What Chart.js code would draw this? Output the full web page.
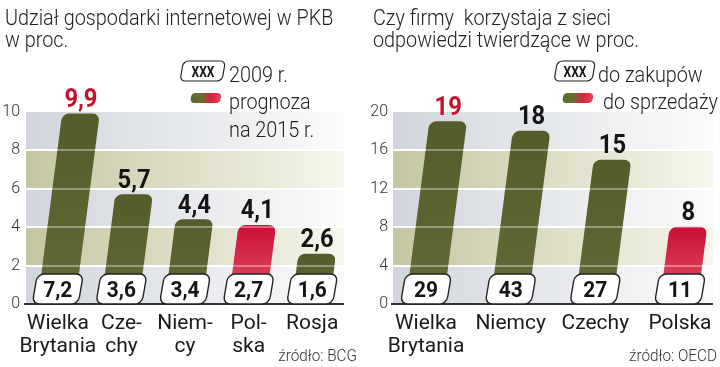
<!DOCTYPE html>
<html><head><meta charset="utf-8">
<script src="https://cdn.jsdelivr.net/npm/chart.js@4.4.1/dist/chart.umd.min.js"></script>
<style>
html,body{margin:0;padding:0;background:#fff;width:720px;height:367px;overflow:hidden}
canvas{position:absolute;top:0}
#c1{left:0}#c2{left:360px}
</style></head>
<body>
<canvas id="c1" width="360" height="367"></canvas>
<canvas id="c2" width="360" height="367"></canvas>
<script>
// ---------- data: left panel ----------
const leftTitle = ['Udział gospodarki internetowej w PKB', 'w proc.'];
const leftCategories = [['Wielka', 'Brytania'], ['Cze-', 'chy'], ['Niem-', 'cy'], ['Pol-', 'ska'], ['Rosja']];
const leftForecast2015 = [9.9, 5.7, 4.4, 4.1, 2.6];
const left2009 = [7.2, 3.6, 3.4, 2.7, 1.6];
const leftTicks = [0, 2, 4, 6, 8, 10];
const leftBoxLegend = ['2009 r.'];
const leftBarLegend = ['prognoza', 'na 2015 r.'];
const leftSource = 'źródło: BCG';

// ---------- data: right panel ----------
const rightTitle = ['Czy firmy  korzystaja z sieci', 'odpowiedzi twierdzące w proc.'];
const rightCategories = [['Wielka', 'Brytania'], ['Niemcy'], ['Czechy'], ['Polska']];
const rightSales = [19, 18, 15, 8];
const rightPurchases = [29, 43, 27, 11];
const rightTicks = [0, 4, 8, 12, 16, 20];
const rightBoxLegend = ['do zakupów'];
const rightBarLegend = ['do sprzedaży'];
const rightSource = 'źródło: OECD';

const highlight = 'Polska';

// ---------- styles ----------
const OLIVE_TOP = '#545c2b', OLIVE_BOT = '#636a36';
const RED_TOP = '#cc0e37', RED_BOT = '#e2596a';
const RED_TEXT = '#c8102e', DARK = '#151515';
const SKEW = 0.13, BOX_SKEW = 0.17;

function txt(ctx, s, x, y, font, color, align, sx) {
  ctx.save();
  ctx.font = font; ctx.fillStyle = color; ctx.textBaseline = 'alphabetic';
  ctx.textAlign = align || 'left';
  ctx.translate(x, y); ctx.scale(sx || 1, 1);
  ctx.fillText(s, 0, 0);
  ctx.restore();
}
function skewPath(ctx, x, y, w, h, r, k) {
  ctx.save();
  ctx.translate(x, y + h);
  ctx.transform(1, 0, -k, 1, 0, 0);
  ctx.beginPath();
  ctx.roundRect(0, -h, w, h, r);
  ctx.restore();
}
function valueBox(ctx, cx, cy, w, h, label, font) {
  skewPath(ctx, cx - w / 2 - BOX_SKEW * h / 2, cy - h / 2, w, h, 7, BOX_SKEW);
  ctx.fillStyle = '#fff'; ctx.fill();
  ctx.lineWidth = 1.4; ctx.strokeStyle = '#222'; ctx.stroke();
  txt(ctx, label, cx, cy + 8, font, DARK, 'center', 0.95);
}

function makePanel(id, P) {
  const fmt = v => P.decimals ? v.toFixed(P.decimals).replace('.', ',') : String(v);
  const isHi = i => P.categories[i].join('').replace('-', '') === highlight;
  const maxVal = Math.max(...P.bars);
  const LIGHT = '300 22px Roboto';

  const deco = {
    id: 'deco',
    beforeDatasetsDraw(chart) {
      const { ctx, chartArea: a, scales: { y } } = chart;
      const t = P.ticks;
      for (let i = 0; i < t.length - 1; i++) {
        const y0 = y.getPixelForValue(t[i]), y1 = y.getPixelForValue(t[i + 1]);
        const g = ctx.createLinearGradient(a.left, 0, a.right, 0);
        if (i % 2 === 0) { g.addColorStop(0, '#d1d6dc'); g.addColorStop(1, '#fbfbfb'); }
        else { g.addColorStop(0, '#c5c6a2'); g.addColorStop(1, '#f6f6ec'); }
        ctx.fillStyle = g;
        ctx.fillRect(a.left, y1, a.right - a.left, y0 - y1);
      }
      ctx.save();
      ctx.strokeStyle = '#ffffff'; ctx.lineWidth = 2;
      t.slice(1, -1).forEach(v => {
        const yy = Math.round(y.getPixelForValue(v));
        ctx.beginPath(); ctx.moveTo(a.left, yy); ctx.lineTo(a.right, yy); ctx.stroke();
      });
      ctx.restore();
      const y0 = y.getPixelForValue(0) - 12;
      ctx.save();
      ctx.transform(1, 0, -SKEW, 1, SKEW * y0, 0);
    },
    afterDatasetsDraw(chart) {
      const { ctx, chartArea: a, scales: { x, y } } = chart;
      ctx.restore();
      const yZ = y.getPixelForValue(0);
      const y0 = yZ - 12;
      ctx.save();
      ctx.strokeStyle = 'rgba(255,255,255,0.35)'; ctx.lineWidth = 2;
      P.ticks.slice(1, -1).forEach(v => {
        const yy = Math.round(y.getPixelForValue(v));
        ctx.beginPath(); ctx.moveTo(a.left, yy); ctx.lineTo(a.right, yy); ctx.stroke();
      });
      ctx.strokeStyle = '#333'; ctx.lineWidth = 2;
      ctx.beginPath(); ctx.moveTo(a.left - 2, yZ); ctx.lineTo(a.right, yZ); ctx.stroke();
      ctx.restore();
      const meta = chart.getDatasetMeta(0);
      meta.data.forEach((el, i) => {
        valueBox(ctx, el.x, yZ - 15, 46, 30, fmt(P.boxes[i]), 'bold 22px Roboto');
        const tx = el.x + SKEW * (y0 - el.y);
        txt(ctx, fmt(P.bars[i]), tx, el.y - 7, 'bold 25px Roboto',
            P.bars[i] === maxVal ? RED_TEXT : DARK, 'center', 0.95);
      });
      P.categories.forEach((lines, i) => {
        const cx = x.getPixelForValue(i);
        lines.forEach((s, j) => txt(ctx, s, cx, 329 + 23 * j, '400 21px Roboto', '#1a1a1a', 'center'));
      });
      P.title.forEach((s, j) => txt(ctx, s, P.titleX, 25 + 22 * j, LIGHT, '#222', 'left', 0.9));
      const L = P.legend;
      skewPath(ctx, L.boxX, 61, L.boxW, 20, 5, BOX_SKEW);
      ctx.fillStyle = '#fff'; ctx.fill(); ctx.lineWidth = 1.2; ctx.strokeStyle = '#222'; ctx.stroke();
      txt(ctx, 'XXX', L.boxX + L.boxW / 2 + 2, 77, 'bold 15px Roboto', DARK, 'center', 0.8);
      P.boxLegend.forEach((s, j) => txt(ctx, s, L.textX, 82 + 28 * j, LIGHT, '#222', 'left', 0.9));
      skewPath(ctx, L.swX, 93, 30, 10, 4, BOX_SKEW);
      const sg = ctx.createLinearGradient(L.swX, 0, L.swX + 32, 0);
      sg.addColorStop(0, '#5a662e'); sg.addColorStop(0.35, '#65702f');
      sg.addColorStop(0.65, '#d9213d'); sg.addColorStop(1, '#e8485d');
      ctx.fillStyle = sg; ctx.fill();
      P.barLegend.forEach((s, j) => txt(ctx, s, L.swTextX, 109 + 28 * j, LIGHT, '#222', 'left', 0.9));
      txt(ctx, P.source, 357, 361, '300 17px Roboto', '#333', 'right', 0.9);
    }
  };

  return new Chart(document.getElementById(id), {
    type: 'bar',
    data: {
      datasets: [{
        data: P.bars.map((v, i) => ({ x: i, y: v })),
        backgroundColor: c => {
          const solid = isHi(c.dataIndex) ? RED_TOP : OLIVE_TOP;
          const ch = c.chart, ys = ch.scales && ch.scales.y;
          if (!ch.chartArea || !ys || !c.raw) return solid;
          const top = ys.getPixelForValue(c.raw.y), bot = ys.getPixelForValue(0);
          if (!isFinite(top) || !isFinite(bot) || top === bot) return solid;
          const g = ch.ctx.createLinearGradient(0, top, 0, bot);
          if (isHi(c.dataIndex)) { g.addColorStop(0, RED_TOP); g.addColorStop(1, RED_BOT); }
          else { g.addColorStop(0, OLIVE_TOP); g.addColorStop(1, OLIVE_BOT); }
          return g;
        },
        borderWidth: 0,
        borderRadius: { topLeft: 7, topRight: 7, bottomLeft: 0, bottomRight: 0 },
        borderSkipped: 'bottom',
        barThickness: 37,
        clip: false
      }]
    },
    options: {
      responsive: false, animation: false, devicePixelRatio: 1,
      layout: { padding: P.padding },
      plugins: { legend: { display: false }, tooltip: { enabled: false }, title: { display: false } },
      scales: {
        x: { type: 'linear', display: false, min: P.xMin, max: P.xMax, offset: false },
        y: {
          min: 0, max: P.ticks[P.ticks.length - 1],
          afterBuildTicks: s => { s.ticks = P.ticks.map(v => ({ value: v })); },
          afterFit: s => { s.width = P.axisWidth; },
          grid: { display: false, drawTicks: false, tickLength: 0 }, border: { display: false },
          ticks: { color: '#333', font: { family: 'Roboto', size: 16, weight: '300' },
                   padding: P.tickPad, crossAlign: 'near' }
        }
      }
    },
    plugins: [deco]
  });
}

makePanel('c1', {
  title: leftTitle, categories: leftCategories, bars: leftForecast2015, boxes: left2009,
  ticks: leftTicks, boxLegend: leftBoxLegend, barLegend: leftBarLegend, source: leftSource,
  decimals: 1, titleX: 5,
  padding: { left: 0, right: 16, top: 112, bottom: 63 }, axisWidth: 26,
  xMin: -0.5, xMax: 4.5, tickPad: 6,
  legend: { boxX: 180, boxW: 42, textX: 229, swX: 190, swTextX: 229 }
});
makePanel('c2', {
  title: rightTitle, categories: rightCategories, bars: rightSales, boxes: rightPurchases,
  ticks: rightTicks, boxLegend: rightBoxLegend, barLegend: rightBarLegend, source: rightSource,
  decimals: 0, titleX: 13,
  padding: { left: 0, right: 7, top: 112, bottom: 63 }, axisWidth: 33,
  xMin: -0.39, xMax: 3.39, tickPad: 5,
  legend: { boxX: 194, boxW: 38, textX: 238, swX: 202, swTextX: 243 }
});
</script>
</body></html>
